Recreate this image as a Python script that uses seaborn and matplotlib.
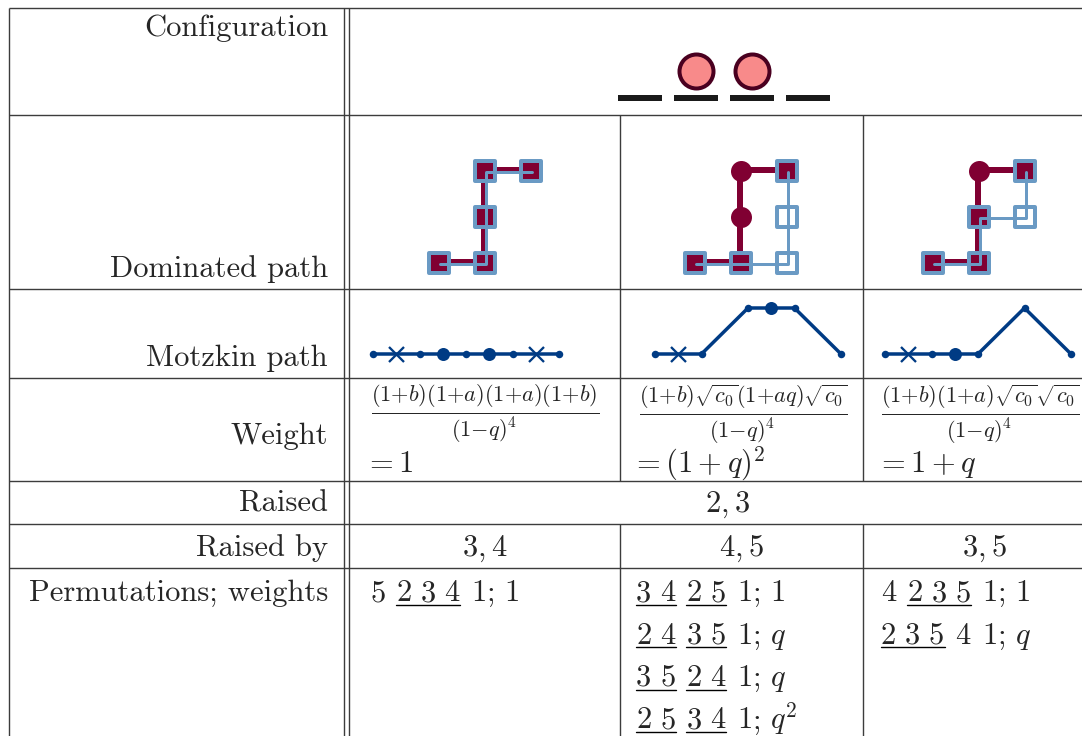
import numpy as np
import pandas as pd
import matplotlib.pyplot as plt
import seaborn as sns

# --- data ---
row_labels = ["Configuration", "Dominated path", "Motzkin path", "Weight",
              "Raised", "Raised by", "Permutations; weights"]
occupied = [0, 1, 1, 0]

# lattice paths, E = east, N = north
red_paths = ["ENNE", "ENNE", "ENNE"]
blue_paths = ["ENNE", "EENN", "ENEN"]

# Motzkin steps: H = flat, U = up, D = down; x / o = mark on the step
motzkin_steps = [["Hx", "Ho", "Ho", "Hx"],
                 ["Hx", "U", "Ho", "D"],
                 ["Hx", "Ho", "U", "D"]]

# {+} keeps the script-size numerators tight like in TeX
weight_fracs = [r"$\frac{(1{+}b)(1{+}a)(1{+}a)(1{+}b)}{(1{-}q)^4}$",
                r"$\frac{(1{+}b)\sqrt{c_0}(1{+}aq)\sqrt{c_0}}{(1{-}q)^4}$",
                r"$\frac{(1{+}b)(1{+}a)\sqrt{c_0}\sqrt{c_0}}{(1{-}q)^4}$"]
weight_vals = [r"$=1$", r"$=(1+q)^2$", r"$=1+q$"]

raised = r"$2,3$"
raised_by = [r"$3,4$", r"$4,5$", r"$3,5$"]

# permutations: (digits, underlined) groups, then the weight
perms = [
    [([("5", False), ("234", True), ("1", False)], "1")],
    [([("34", True), ("25", True), ("1", False)], "1"),
     ([("24", True), ("35", True), ("1", False)], "q"),
     ([("35", True), ("24", True), ("1", False)], "q"),
     ([("25", True), ("34", True), ("1", False)], "q^2")],
    [([("4", False), ("235", True), ("1", False)], "1"),
     ([("235", True), ("4", False), ("1", False)], "q")],
]

# --- layout (pixels) ---
W, H = 1082, 736
PX = 0.72  # points per pixel at dpi 100
FS = 22
row_y = [8, 115, 289, 378, 481, 524, 568, 760]
label_x = 328
label_base = [36, 277, 366, 444, 512, 556, 601]

maroon = "#800032"
steel = "#6a9ac4"
navy = "#003b84"

sns.set_style("white")
plt.rcParams["font.family"] = ["cmr10", "DejaVu Serif"]
plt.rcParams["mathtext.fontset"] = "cm"
plt.rcParams["axes.unicode_minus"] = False

fig = plt.figure(figsize=(W / 100, H / 100), dpi=100)
ax = fig.add_axes([0, 0, 1, 1])
ax.set_xlim(0, W)
ax.set_ylim(H, 0)
ax.axis("off")

# table rules
lk = dict(color="#3c3c3c", lw=1.0)
ax.hlines(row_y[:-1], 9, W + 30, **lk)
ax.vlines([9, 344, 349], row_y[0], row_y[-1], **lk)
ax.vlines([620, 863], row_y[1], row_y[4], **lk)
ax.vlines([620, 863], row_y[5], row_y[-1], **lk)

for lab, yb in zip(row_labels, label_base):
    ax.text(label_x, yb, lab, fontsize=FS, ha="right", va="baseline")

# configuration
site_x = 640 + 56 * np.arange(len(occupied))
ax.hlines([98] * len(site_x), site_x - 22, site_x + 22, color="#1a1a1a",
          lw=6 * PX)
occ = site_x[np.array(occupied) == 1]
sns.scatterplot(x=occ, y=[71] * len(occ), s=(34 * PX) ** 2, color="#f88a8a",
                edgecolor="#4a0020", linewidth=4 * PX, ax=ax, legend=False,
                zorder=5)


# dominated paths
def lattice(steps, x0, y0, u):
    pts = [(0, 0)]
    for s in steps:
        i, j = pts[-1]
        pts.append((i + 1, j) if s == "E" else (i, j + 1))
    return pts, [(x0 + u * i, y0 - u * j) for i, j in pts]


dom_x0 = [439, 695, 933]
for c in range(3):
    rp, rxy = lattice(red_paths[c], dom_x0[c], 263, 46)
    bp, bxy = lattice(blue_paths[c], dom_x0[c], 263, 46)
    rdf = pd.DataFrame(rxy, columns=["x", "y"])
    bdf = pd.DataFrame(bxy, columns=["x", "y"])
    sns.lineplot(x=rdf.x - 1.5, y=rdf.y - 1.5, sort=False, estimator=None,
                 color=maroon, lw=6 * PX, ax=ax, zorder=2)
    shared = [xy for p, xy in zip(rp, rxy) if p in bp]
    red_only = [xy for p, xy in zip(rp, rxy) if p not in bp]
    blue_only = [xy for p, xy in zip(bp, bxy) if p not in rp]
    for pts, fc in [(shared, maroon), (blue_only, "white")]:
        if pts:
            d = pd.DataFrame(pts, columns=["x", "y"])
            sns.scatterplot(data=d, x="x", y="y", marker="s", s=(20 * PX) ** 2,
                            color=fc, edgecolor=steel, linewidth=4 * PX,
                            ax=ax, legend=False, zorder=3)
    if red_only:
        d = pd.DataFrame(red_only, columns=["x", "y"])
        sns.scatterplot(data=d, x="x", y="y", s=(21 * PX) ** 2, color=maroon,
                        edgecolor=maroon, linewidth=0, ax=ax, legend=False,
                        zorder=3)
    sns.lineplot(x=bdf.x + 1, y=bdf.y + 1, sort=False, estimator=None,
                 color=steel, lw=3 * PX, ax=ax, zorder=4)

# Motzkin paths
mz_x0 = [373, 655, 885]
for c, steps in enumerate(motzkin_steps):
    nodes = [(mz_x0[c], 354)]
    marks = []
    for s in steps:
        x, y = nodes[-1]
        dy = {"U": -46, "D": 46}.get(s[0], 0)
        nodes.append((x + 46.5, y + dy))
        if len(s) > 1:
            marks.append((x + 23.25, y, s[1]))
    nd = pd.DataFrame(nodes, columns=["x", "y"])
    sns.lineplot(data=nd, x="x", y="y", sort=False, estimator=None, color=navy,
                 lw=3.5 * PX, ax=ax, zorder=2)
    sns.scatterplot(data=nd, x="x", y="y", s=(7.5 * PX) ** 2, color=navy,
                    linewidth=0, ax=ax, legend=False, zorder=3)
    md = pd.DataFrame(marks, columns=["x", "y", "m"])
    big = md[md.m == "o"]
    crs = md[md.m == "x"]
    sns.scatterplot(data=big, x="x", y="y", s=(13 * PX) ** 2, color=navy,
                    linewidth=0, ax=ax, legend=False, zorder=3)
    sns.scatterplot(data=crs, x="x", y="y", marker="x", s=(15 * PX) ** 2,
                    color=navy, linewidth=2.3 * PX, ax=ax, legend=False,
                    zorder=3)

# weights
frac_x = [371, 639, 881]
eq_x = [364, 631, 876]
for c in range(3):
    ax.text(frac_x[c], 414, weight_fracs[c], fontsize=23, ha="left",
            va="center")
    ax.text(eq_x[c], 472, weight_vals[c], fontsize=FS, ha="left",
            va="baseline")

# raised / raised by
ax.text(727, 512, raised, fontsize=FS, ha="center", va="baseline")
for cx, t in zip([484.5, 741.5, 984], raised_by):
    ax.text(cx, 556, t, fontsize=FS, ha="center", va="baseline")

# permutations with underlined blocks
perm_x = [370, 636, 881]
pitch, digit_w = 24, 15.3
for c, rows in enumerate(perms):
    for r, (groups, w) in enumerate(rows):
        yb = 601 + 42.5 * r
        x = perm_x[c]
        for gi, (digits, under) in enumerate(groups):
            if gi:
                x += 2.5
            start = x
            for d in digits:
                ax.text(x, yb, d, fontsize=FS, ha="left", va="baseline")
                x += pitch
            if under:
                ax.plot([start - 0.5, x - pitch + digit_w + 0.5], [yb + 3.5] * 2,
                        color="black", lw=1.0)
        last = x - pitch
        ax.text(last + digit_w, yb, ";", fontsize=FS, ha="left", va="baseline")
        ax.text(last + 33, yb, f"${w}$", fontsize=FS, ha="left", va="baseline")

fig.savefig("out.png", dpi=100)
